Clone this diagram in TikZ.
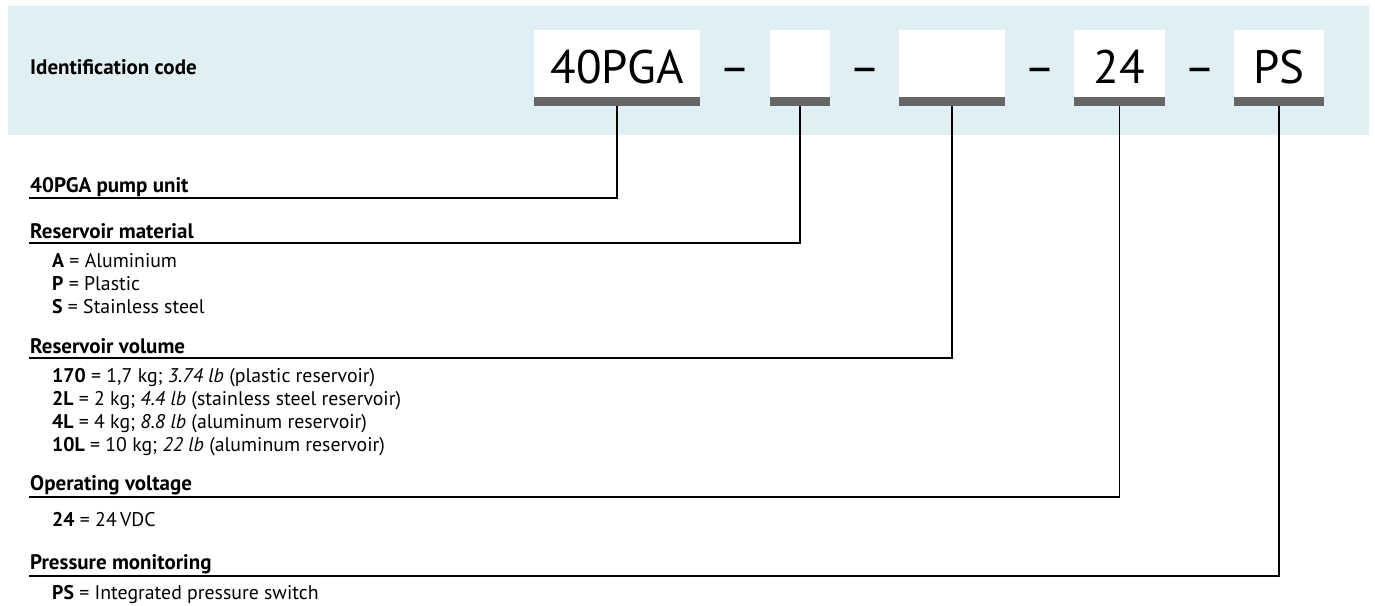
\documentclass[tikz,border=0pt]{standalone}
\usepackage{fontspec}
\setmainfont{PT Sans}
\definecolor{bandblue}{HTML}{DFEFF4}
\definecolor{bargrey}{HTML}{666666}
\tikzset{
	codefield/.style={fill=white, inner sep=0pt, minimum height=67pt, text height=39pt, text depth=0pt, font=\fontsize{47}{56}\selectfont},
	codedash/.style={anchor=base, inner sep=0pt, font=\fontsize{47}{56}\selectfont},
	codebar/.style={fill=bargrey, inner sep=0pt, minimum height=9pt},
	heading/.style={anchor=base west, inner sep=0pt, font=\fontsize{21}{25}\selectfont\bfseries},
	entry/.style={anchor=base west, inner sep=0pt, font=\fontsize{19.8}{23}\selectfont},
	leader/.style={line width=1.2pt}
}
\begin{document}
\begin{tikzpicture}[x=1pt, y=-1pt]
		\useasboundingbox (0,0) rectangle (1375,605);
		\fill [bandblue] (8,6) rectangle (1369,135);
		
		\node [heading] (idcode) at (30,74) {Identification code};
		
		\node [codefield, minimum width=166pt] (f1) at (617,63.5) {40PGA};
		\node [codefield, minimum width=60pt] (f2) at (800,63.5) {};
		\node [codefield, minimum width=106pt] (f3) at (952,63.5) {};
		\node [codefield, minimum width=91pt] (f4) at (1119.5,63.5) {24};
		\node [codefield, minimum width=90pt] (f5) at (1279,63.5) {PS};
		
		\node [codedash] (d1) at (735,83) {–};
		\node [codedash] (d2) at (865,83) {–};
		\node [codedash] (d3) at (1040,83) {–};
		\node [codedash] (d4) at (1200,83) {–};
		
		\node [codebar, minimum width=166pt] (b1) at (617,101.5) {};
		\node [codebar, minimum width=60pt] (b2) at (800,101.5) {};
		\node [codebar, minimum width=106pt] (b3) at (952,101.5) {};
		\node [codebar, minimum width=91pt] (b4) at (1119.5,101.5) {};
		\node [codebar, minimum width=90pt] (b5) at (1279,101.5) {};
		
		\node [heading] (pump) at (30,192) {40PGA pump unit};
		\coordinate (l1) at (29,198);
		
		\node [heading] (material) at (30,238) {Reservoir material};
		\coordinate (l2) at (29,243);
		\node [entry] (matA) at (52,267) {\textbf{A} = Aluminium};
		\node [entry] (matP) at (52,290) {\textbf{P} = Plastic};
		\node [entry] (matS) at (52,313) {\textbf{S} = Stainless steel};
		
		\node [heading] (volume) at (30,353) {Reservoir volume};
		\coordinate (l3) at (29,358);
		\node [entry] (vol170) at (52,382) {\textbf{170} = 1,7 kg; \textit{3.74 lb} (plastic reservoir)};
		\node [entry] (vol2L) at (52,405) {\textbf{2L} = 2 kg; \textit{4.4 lb} (stainless steel reservoir)};
		\node [entry] (vol4L) at (52,428) {\textbf{4L} = 4 kg; \textit{8.8 lb} (aluminum reservoir)};
		\node [entry] (vol10L) at (52,451) {\textbf{10L} = 10 kg; \textit{22 lb} (aluminum reservoir)};
		
		\node [heading] (voltage) at (30,490) {Operating voltage};
		\coordinate (l4) at (29,497);
		\node [entry] (volt24) at (52,526) {\textbf{24} = 24\,VDC};
		
		\node [heading] (pressure) at (30,569) {Pressure monitoring};
		\coordinate (l5) at (29,576);
		\node [entry] (presPS) at (52,599) {\textbf{PS} = Integrated pressure switch};
		
		\draw [leader] (b1.south) |- (l1);
		\draw [leader] (b2.south) |- (l2);
		\draw [leader] (b3.south) |- (l3);
		\draw [leader] (b4.south) |- (l4);
		\draw [leader] (b5.south) |- (l5);
	\end{tikzpicture}
\end{document}
